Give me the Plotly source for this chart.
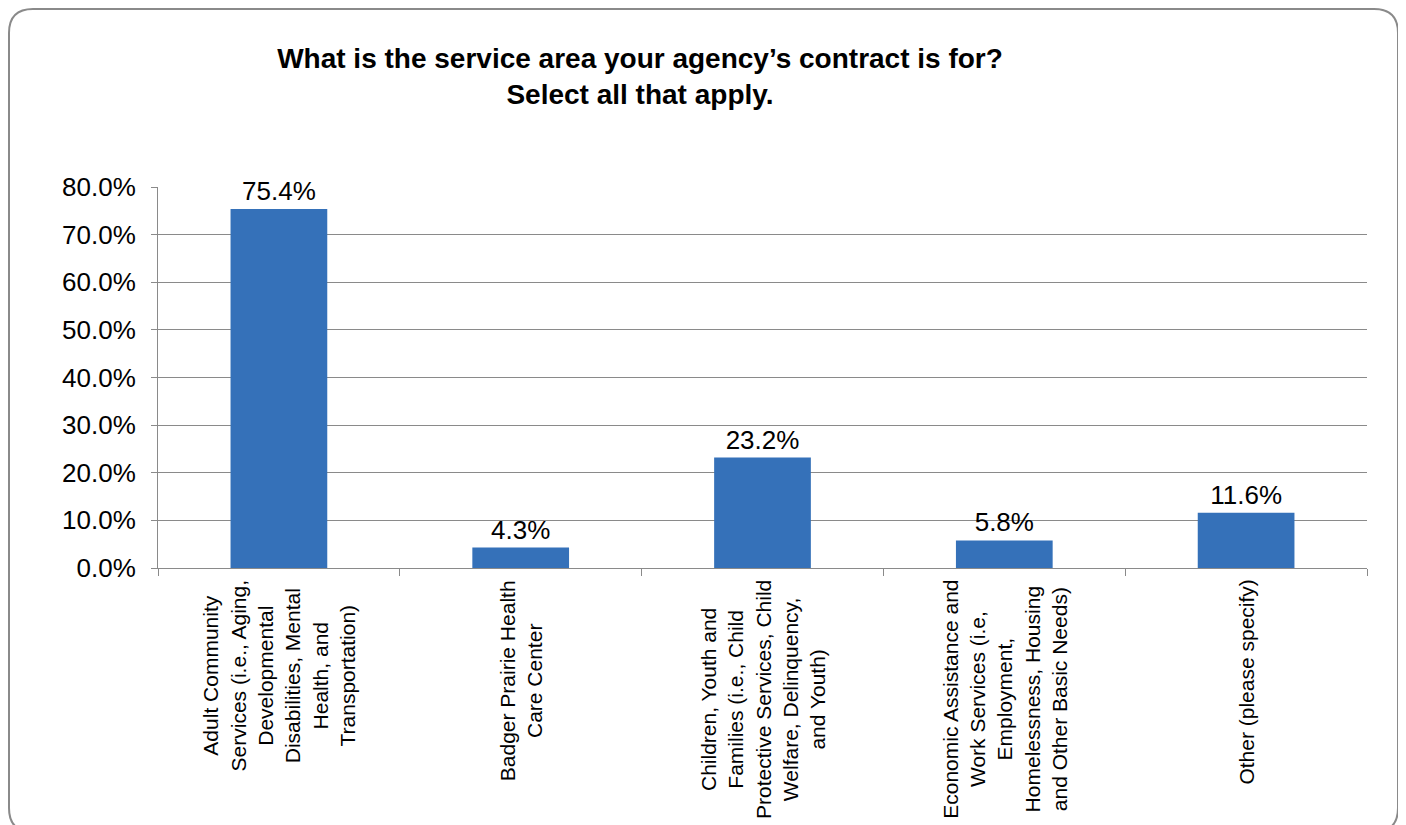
import plotly.graph_objects as go

categories = [
    "Adult Community<br>Services (i.e., Aging,<br>Developmental<br>Disabilities, Mental<br>Health, and<br>Transportation)",
    "Badger Prairie Health<br>Care Center",
    "Children, Youth and<br>Families (i.e., Child<br>Protective Services, Child<br>Welfare, Delinquency,<br>and Youth)",
    "Economic Assistance and<br>Work Services (i.e,<br>Employment,<br>Homelessness, Housing<br>and Other Basic Needs)",
    "Other (please specify)",
]
cat_keys = ["Adult", "Badger", "Children", "Economic", "Other"]
values = [0.754, 0.043, 0.232, 0.058, 0.116]
value_labels = ["75.4%", "4.3%", "23.2%", "5.8%", "11.6%"]
y_ticks = [0.0, 0.1, 0.2, 0.3, 0.4, 0.5, 0.6, 0.7, 0.8]
y_tick_labels = ["0.0%", "10.0%", "20.0%", "30.0%", "40.0%", "50.0%", "60.0%", "70.0%", "80.0%"]
title_text = "What is the service area your agency\u2019s contract is for?<br>Select all that apply."

# page body has an 8px margin, so figure coordinates are screen - 8
OFF = 8
W, H = 1406 - OFF, 825 - OFF
L, R, T, B = 158 - OFF, 1367 - OFF, 187 - OFF, 568 - OFF
FONT = "Liberation Sans, Arial, sans-serif"

fig = go.Figure()
fig.add_trace(go.Bar(
    x=cat_keys, y=values,
    marker=dict(color="#3571b9", line=dict(width=0)),
    text=value_labels, textposition="outside",
    textfont=dict(size=26, color="#000000", family=FONT),
    cliponaxis=False,
    width=0.4,
))

# category labels (rotated, centered lines)
for key, lab in zip(cat_keys, categories):
    fig.add_annotation(
        x=key, xref="x", y=(B - 570) / (B - T), yref="paper",
        text=lab, textangle=-90, showarrow=False,
        xanchor="center", yanchor="top", align="center",
        font=dict(size=21, color="#000000", family=FONT),
    )

# rounded border
def px(x):
    return (x - OFF - L) / (R - L)

def py(y):
    return (B - (y - OFF)) / (B - T)

x0, x1, y0, y1, r = 9, 1398, 9, 832, 24
path = (
    f"M {px(x0 + r)},{py(y0)} L {px(x1 - r)},{py(y0)} "
    f"Q {px(x1)},{py(y0)} {px(x1)},{py(y0 + r)} "
    f"L {px(x1)},{py(y1 - r)} Q {px(x1)},{py(y1)} {px(x1 - r)},{py(y1)} "
    f"L {px(x0 + r)},{py(y1)} Q {px(x0)},{py(y1)} {px(x0)},{py(y1 - r)} "
    f"L {px(x0)},{py(y0 + r)} Q {px(x0)},{py(y0)} {px(x0 + r)},{py(y0)} Z"
)
fig.add_shape(type="path", path=path, xref="paper", yref="paper",
              line=dict(color="#8a8a8a", width=2), layer="above")

fig.update_layout(
    width=W, height=H,
    margin=dict(l=L, r=W - R, t=T, b=H - B),
    paper_bgcolor="#ffffff", plot_bgcolor="#ffffff",
    showlegend=False,
    font=dict(family=FONT, color="#000000"),
    title=dict(text=title_text, x=(640 - OFF) / W, xanchor="center", xref="container",
               y=1 - 60 / H, yanchor="top",
               font=dict(size=28, family=FONT, color="#000000", weight="bold")),
    bargap=0.6,
)
fig.update_xaxes(
    showticklabels=False, showgrid=False,
    showline=True, linecolor="#8a8a8a", linewidth=1,
    ticks="outside", tickson="boundaries", ticklen=7, tickcolor="#8a8a8a",
    range=[-0.5, 4.5],
)
fig.update_yaxes(
    range=[0, 0.8], tickvals=y_ticks, ticktext=y_tick_labels,
    showgrid=True, gridcolor="#8a8a8a", gridwidth=1,
    showline=True, linecolor="#8a8a8a", linewidth=1,
    ticks="outside", ticklen=6, tickcolor="#8a8a8a",
    tickfont=dict(size=26, color="#000000", family=FONT),
    ticklabelstandoff=10, zeroline=False,
)

fig.write_html("out.html")
